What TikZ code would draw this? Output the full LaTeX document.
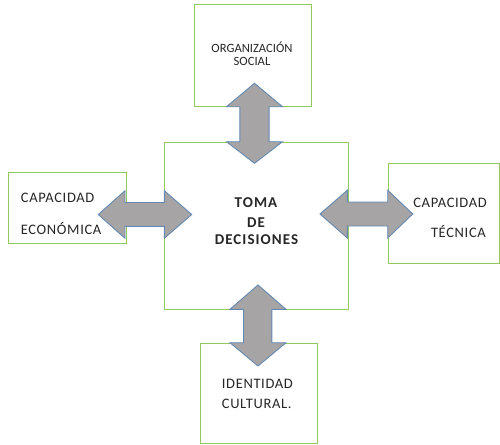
\documentclass[tikz,border=0pt]{standalone}
\usepackage{fontspec}
\setmainfont{Carlito}
\newfontfamily\spaced[LetterSpace=4.5]{Carlito}
\newfontfamily\spacedb[LetterSpace=7]{Carlito}
\begin{document}
\begin{tikzpicture}[x=1pt,y=-1pt,
  box/.style={draw=boxgreen,line width=1pt},
  blockarrow/.style={fill=arrowgray,draw=arrowblue,line width=0.9pt,line join=miter},
  lbl/.style={inner sep=0pt,text=black!85},
  small/.style={lbl,font=\fontsize{12.6}{14}\selectfont},
  wide/.style={lbl,font=\spaced\fontsize{14.5}{16}\selectfont},
  center/.style={lbl,font=\spacedb\bfseries\fontsize{15}{17}\selectfont}]
\definecolor{boxgreen}{RGB}{146,200,96}
\definecolor{arrowgray}{RGB}{166,164,164}
\definecolor{arrowblue}{RGB}{100,138,180}
\useasboundingbox (0,0) rectangle (500,444);
% boxes
\draw[box] (194,5) rectangle (311,106) coordinate (topbox);
\draw[box] (164,142) rectangle (348,309);
\draw[box] (8.5,172) rectangle (126,243);
\draw[box] (388,163.5) rectangle (499.5,263);
\draw[box] (200,343.5) rectangle (317.5,443.5);
% top arrow
\draw[blockarrow] (254.5,83.3) -- (282.5,106.7) -- (269.1,106.7) -- (269.1,141.7) -- (282.5,141.7)
  -- (254.5,163.3) -- (226.5,141.7) -- (239.9,141.7) -- (239.9,106.7) -- (226.5,106.7) -- cycle;
% left arrow
\draw[blockarrow] (98.3,214.5) -- (125,190.7) -- (125,202.5) -- (164.3,202.5) -- (164.3,190.7)
  -- (191.7,214.5) -- (164.3,238.3) -- (164.3,226.3) -- (125,226.3) -- (125,238.3) -- cycle;
% right arrow
\draw[blockarrow] (320,214) -- (347.3,190.2) -- (347.3,202) -- (387.7,202) -- (387.7,190.2)
  -- (412.7,214) -- (387.7,238) -- (387.7,226) -- (347.3,226) -- (347.3,238) -- cycle;
% bottom arrow
\draw[blockarrow] (258,285) -- (286,309.3) -- (271.8,309.3) -- (271.8,342.7) -- (286,342.7)
  -- (258,366) -- (230,342.7) -- (243.6,342.7) -- (243.6,309.3) -- (230,309.3) -- cycle;
% labels
\node[small] (t1) at (252,47) {ORGANIZACIÓN};
\node[small] (t2) at (252,61.5) {SOCIAL};
\node[wide,anchor=west] (l1) at (20.7,198) {CAPACIDAD};
\node[wide,anchor=west] (l2) at (20.7,228) {ECONÓMICA};
\node[wide,anchor=east] (r1) at (487,203) {CAPACIDAD};
\node[wide,anchor=east] (r2) at (486,231.7) {TÉCNICA};
\node[wide,anchor=west] (b1) at (221.7,384) {IDENTIDAD};
\node[wide,anchor=west] (b2) at (221.7,404) {CULTURAL.};
\node[center] (c1) at (256,202.7) {TOMA};
\node[center] (c2) at (256,222.5) {DE};
\node[center] (c3) at (256.5,240) {DECISIONES};
\end{tikzpicture}
\end{document}
